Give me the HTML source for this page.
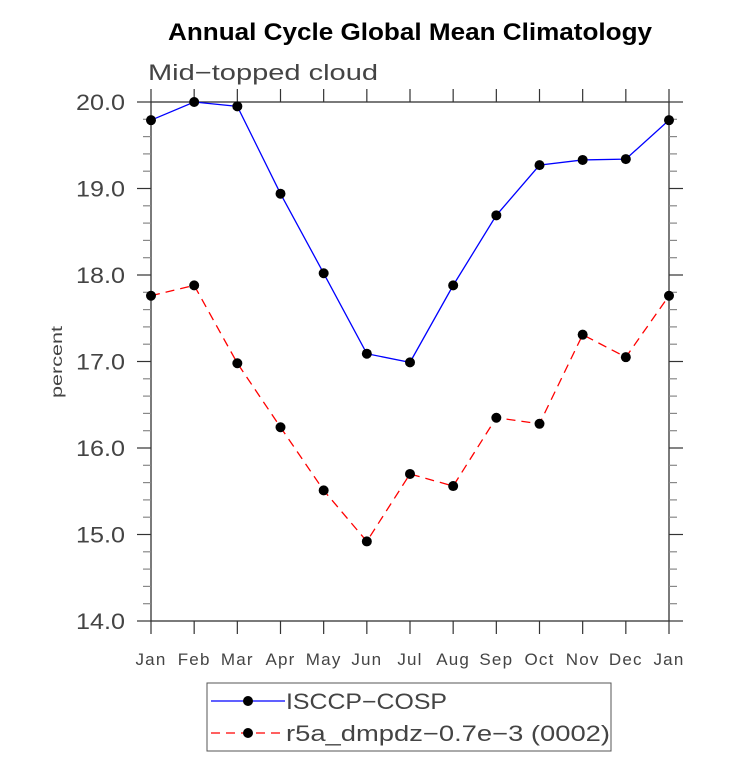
<!DOCTYPE html>
<html><head><meta charset="utf-8"><style>
body{margin:0;background:#fff;}
svg text{font-family:"Liberation Sans",sans-serif;}
</style></head><body>
<svg width="733" height="772" xmlns="http://www.w3.org/2000/svg">
<text x="168" y="40" font-size="24" font-weight="bold" fill="#000" textLength="484" lengthAdjust="spacingAndGlyphs">Annual Cycle Global Mean Climatology</text>
<text x="148" y="80" font-size="22" fill="#444" textLength="230" lengthAdjust="spacingAndGlyphs">Mid−topped cloud</text>
<text transform="translate(62,362) rotate(-90)" text-anchor="middle" font-size="16" fill="#444" textLength="72" lengthAdjust="spacingAndGlyphs">percent</text>
<g id="axes"></g>
<g id="series"></g>
<g>
<rect x="207" y="683" width="404" height="68" fill="#fff" stroke="#555" stroke-width="1"/>
<g>
<line x1="211" y1="701" x2="285" y2="701" stroke="#0000ff" stroke-width="1.3"/>
<circle cx="248" cy="701" r="5" fill="#000"/>
<text x="286" y="709" font-size="22" fill="#444" textLength="161" lengthAdjust="spacingAndGlyphs">ISCCP−COSP</text></g>
<g>
<line x1="211" y1="733" x2="285" y2="733" stroke="#ff0000" stroke-width="1.3" stroke-dasharray="9,6"/>
<circle cx="248" cy="733" r="5" fill="#000"/>
<text x="286" y="741" font-size="22" fill="#444" textLength="324" lengthAdjust="spacingAndGlyphs">r5a_dmpdz−0.7e−3 (0002)</text></g>
</g>
</svg>
<script>
const months=["Jan","Feb","Mar","Apr","May","Jun","Jul","Aug","Sep","Oct","Nov","Dec","Jan"];
const isccp=[19.79,20.0,19.95,18.94,18.02,17.09,16.99,17.88,18.69,19.27,19.33,19.34,19.79];
const model=[17.76,17.88,16.98,16.24,15.51,14.92,15.70,15.56,16.35,16.28,17.31,17.05,17.76];
const yTicks=[14,15,16,17,18,19,20];
const NS="http://www.w3.org/2000/svg";
const L=151,R=669,T=102,B=621,ymin=14,ymax=20;
const xs=i=>L+(R-L)*i/12;
const ys=v=>B-(B-T)*(v-ymin)/(ymax-ymin);
function mk(tag,attrs,parent){const e=document.createElementNS(NS,tag);for(const k in attrs)e.setAttribute(k,attrs[k]);parent.appendChild(e);return e;}
const ax=document.getElementById('axes');
const frame=mk('rect',{x:L,y:T,width:R-L,height:B-T,fill:'none',stroke:'#333','stroke-width':1.3},ax);


for(let v=ymin;v<=ymax+1e-9;v+=0.2){
  const y=ys(v);const major=Math.abs(v-Math.round(v))<1e-6;const len=major?14:8;
  mk('line',{x1:L-len,y1:y,x2:L,y2:y,stroke:major?'#333':'#888','stroke-width':1.2},ax);
  mk('line',{x1:R,y1:y,x2:R+len,y2:y,stroke:major?'#333':'#888','stroke-width':1.2},ax);
}
yTicks.forEach(v=>{
  const t=mk('text',{x:L-26,y:ys(v)+8,'text-anchor':'end','font-size':22,fill:'#444',textLength:49,lengthAdjust:'spacingAndGlyphs'},ax);
  t.textContent=v.toFixed(1);
  
  
});
months.forEach((m,i)=>{
  const x=xs(i);
  mk('line',{x1:x,y1:B,x2:x,y2:B+13,stroke:'#333','stroke-width':1.2},ax);
  mk('line',{x1:x,y1:T,x2:x,y2:T-13,stroke:'#333','stroke-width':1.2},ax);
  const t=mk('text',{x:x,y:B+44,'text-anchor':'middle','font-size':17,fill:'#444','letter-spacing':'1.2px'},ax);
  t.textContent=m;
  
  
});
const sg=document.getElementById('series');
function series(data,color,dash,name){
  const g=mk('g',{},sg);
  
  
  const p=mk('polyline',{points:data.map((v,i)=>xs(i)+','+ys(v)).join(' '),fill:'none',stroke:color,'stroke-width':1.3},g);
  if(dash)p.setAttribute('stroke-dasharray',dash);
  data.forEach((v,i)=>{
    const c=mk('circle',{cx:xs(i),cy:ys(v),r:5,fill:'#000'},g);
    
    
  });
}
series(isccp,'#0000ff',null,'isccp-series');
series(model,'#ff0000','9,6','model-series');
</script>
</body></html>
